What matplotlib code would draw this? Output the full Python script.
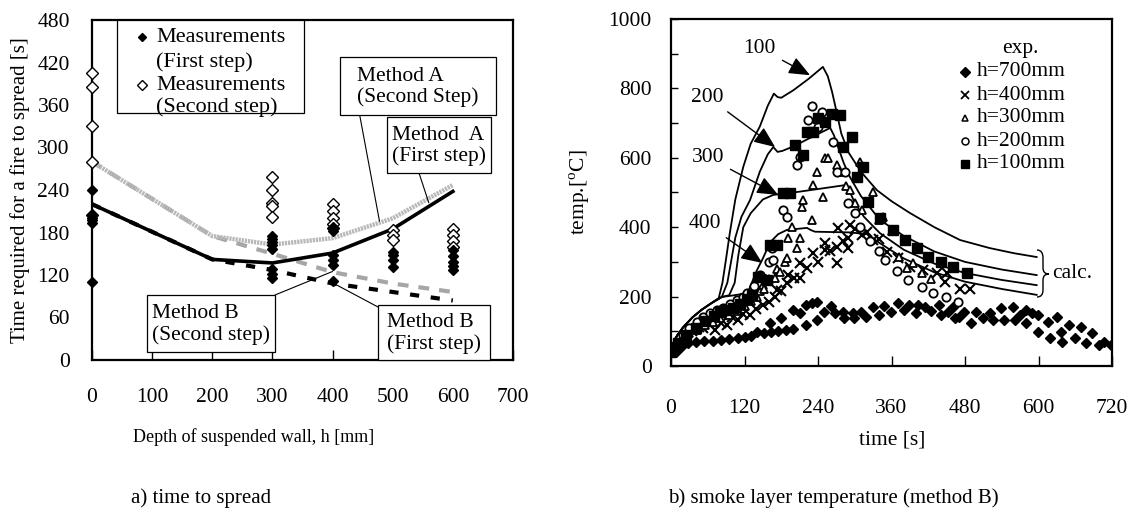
import matplotlib
matplotlib.use("Agg")
import matplotlib.pyplot as plt
import matplotlib.transforms as mtransforms
from matplotlib.patches import Rectangle, PathPatch
from matplotlib.path import Path
from matplotlib.lines import Line2D

plt.rcParams['font.family'] = ['Liberation Serif', 'DejaVu Serif']
plt.rcParams['mathtext.fontset'] = 'custom'
plt.rcParams['mathtext.rm'] = 'Liberation Serif'

# ---------------- data: (a) time to spread ----------------
depth = [0, 200, 300, 400, 500, 600]
methodA_second = [280, 175, 163, 172, 200, 247]
methodA_first = [220, 142, 137, 151, 185, 238]
methodB_second = [280, 175, 150, 124, 108, 96]
methodB_first = [220, 142, 127, 108, 96, 84]

meas1_h = [0, 0, 0, 0, 0, 0,
           300, 300, 300, 300, 300, 300, 300, 300,
           400, 400, 400, 400, 400, 400,
           500, 500, 500, 500,
           600, 600, 600, 600, 600]
meas1_t = [240, 205, 200, 197, 193, 110,
           175, 171, 167, 163, 157, 128, 122, 116,
           186, 182, 148, 141, 134, 112,
           152, 148, 141, 132,
           155, 147, 139, 133, 127]
meas2_h = [0, 0, 0, 0, 0,
           300, 300, 300, 300, 300,
           400, 400, 400, 400, 400,
           500, 500, 500,
           600, 600, 600, 600]
meas2_t = [405, 385, 330, 280, 205,
           258, 240, 222, 217, 202,
           220, 210, 200, 192, 186,
           184, 177, 169,
           185, 177, 168, 160]

# ---------------- data: (b) smoke layer temperature ----------------
calc100_t = [0, 5, 10, 20, 35, 50, 65, 78, 84, 90, 96, 105, 118, 130, 145, 158, 168, 174, 180, 200, 225, 248, 256, 263, 270, 278, 290, 310, 336, 360, 390, 430, 472, 520, 560, 597]
calc100_T = [38, 70, 88, 112, 140, 162, 180, 196, 240, 310, 383, 480, 574, 640, 690, 750, 785, 775, 773, 795, 828, 862, 835, 790, 735, 670, 615, 560, 507, 475, 441, 400, 363, 340, 325, 314]
calc200_t = [0, 5, 10, 20, 35, 50, 65, 83, 92, 98, 105, 115, 129, 145, 158, 167, 174, 182, 200, 230, 260, 266, 274, 282, 292, 310, 341, 380, 430, 480, 540, 597]
calc200_T = [38, 70, 88, 112, 140, 162, 180, 199, 240, 300, 370, 430, 478, 560, 610, 631, 617, 620, 633, 660, 686, 665, 625, 585, 545, 490, 421, 375, 330, 300, 278, 262]
calc300_t = [0, 5, 10, 20, 35, 50, 65, 83, 95, 104, 110, 118, 130, 150, 167, 200, 240, 287, 300, 315, 341, 380, 430, 480, 540, 597]
calc300_T = [38, 70, 88, 112, 140, 162, 180, 199, 204, 240, 320, 400, 440, 480, 493, 500, 510, 522, 470, 430, 383, 335, 295, 268, 248, 233]
calc400_t = [0, 5, 10, 20, 35, 50, 65, 83, 100, 125, 132, 140, 150, 162, 175, 189, 222, 228, 235, 292, 320, 341, 380, 430, 480, 540, 597]
calc400_T = [38, 70, 88, 112, 140, 162, 180, 199, 203, 210, 240, 275, 310, 357, 380, 392, 398, 392, 387, 385, 380, 354, 310, 270, 243, 222, 205]

h700_t = [0, 8, 16, 27, 41, 54, 68, 82, 95, 109, 120, 131, 141, 152, 161, 163, 174, 180, 188, 199, 199, 210, 220, 220, 231, 239, 239, 250, 261, 267, 280, 283, 297, 299, 310, 318, 329, 340, 348, 359, 370, 381, 389, 400, 403, 414, 424, 438, 441, 452, 460, 463, 471, 479, 490, 498, 509, 520, 525, 539, 544, 558, 561, 569, 580, 580, 590, 599, 599, 615, 618, 631, 637, 639, 650, 659, 669, 678, 688, 699, 707, 718]
h700_T = [40, 41, 55, 65, 70, 73, 73, 75, 77, 80, 84, 86, 99, 96, 123, 99, 102, 137, 104, 106, 161, 152, 118, 176, 181, 185, 133, 156, 173, 152, 156, 137, 152, 137, 156, 142, 169, 147, 173, 156, 181, 161, 176, 152, 176, 169, 159, 176, 147, 156, 171, 137, 142, 156, 123, 156, 137, 152, 132, 166, 132, 171, 132, 147, 161, 123, 152, 147, 99, 128, 80, 142, 99, 70, 118, 80, 113, 65, 94, 60, 70, 60]

h400_t = [0, 8, 15, 25, 35, 45, 52, 62, 72, 82, 91, 100, 109, 118, 129, 138, 150, 160, 170, 173, 180, 189, 191, 200, 211, 211, 222, 232, 240, 251, 251, 260, 271, 271, 280, 289, 289, 273, 292, 300, 312, 320, 330, 340, 352, 371, 390, 411, 434, 447, 450, 472, 488]
h400_T = [40, 55, 70, 85, 100, 112, 110, 122, 104, 125, 118, 140, 133, 150, 147, 165, 176, 185, 199, 219, 215, 239, 262, 255, 297, 254, 282, 325, 300, 334, 354, 330, 343, 297, 360, 340, 369, 398, 406, 395, 377, 385, 363, 365, 328, 311, 285, 277, 268, 242, 268, 222, 222]

h300_t = [0, 10, 20, 30, 42, 55, 68, 80, 95, 108, 120, 130, 140, 145, 150, 152, 160, 170, 173, 178, 186, 189, 191, 197, 205, 211, 214, 216, 230, 232, 238, 248, 251, 256, 271, 276, 286, 292, 300, 309, 312, 330, 340, 346, 360, 373, 385, 395, 410, 425]
h300_T = [40, 60, 80, 95, 104, 118, 128, 138, 148, 158, 172, 188, 200, 215, 233, 222, 250, 254, 280, 270, 300, 311, 369, 401, 340, 369, 458, 478, 421, 522, 559, 487, 599, 599, 579, 559, 520, 507, 470, 588, 450, 501, 420, 430, 390, 314, 282, 297, 268, 250]

h200_t = [0, 10, 20, 30, 42, 53, 64, 75, 85, 96, 108, 117, 124, 135, 145, 150, 160, 165, 167, 183, 189, 205, 211, 224, 230, 240, 246, 265, 271, 284, 289, 300, 309, 325, 340, 349, 369, 387, 410, 428, 449, 469]
h200_T = [40, 65, 90, 110, 127, 140, 152, 160, 167, 178, 190, 200, 210, 230, 262, 255, 300, 340, 305, 450, 430, 579, 602, 709, 749, 690, 732, 646, 559, 559, 470, 440, 401, 360, 330, 305, 275, 248, 228, 210, 199, 184]

h100_t = [0, 12, 25, 40, 55, 70, 80, 90, 101, 112, 124, 133, 142, 157, 162, 173, 183, 194, 202, 215, 222, 232, 240, 251, 263, 276, 281, 296, 303, 313, 322, 341, 362, 382, 401, 420, 441, 461, 483]
h100_T = [40, 65, 90, 110, 130, 145, 156, 162, 167, 180, 193, 205, 257, 248, 349, 349, 499, 499, 637, 608, 675, 675, 715, 703, 726, 723, 631, 660, 545, 573, 473, 426, 392, 363, 340, 314, 300, 285, 268]

exp_labels = ['h=700mm', 'h=400mm', 'h=300mm', 'h=200mm', 'h=100mm']
curve_labels = ['100', '200', '300', '400']

# ---------------- figure ----------------
W, H = 1135, 525
fig = plt.figure(figsize=(W / 100, H / 100), dpi=100)
PX = mtransforms.Affine2D().scale(1 / W, -1 / H).translate(0, 1) + fig.transFigure


def ax_rect(x0, y0, x1, y1):
    return [x0 / W, 1 - y1 / H, (x1 - x0) / W, (y1 - y0) / H]


FS = 15.5

# ---------- (a) ----------
ax1 = fig.add_axes(ax_rect(92, 20, 513, 360))
ax1.set_xlim(0, 700)
ax1.set_ylim(0, 480)
ax1.set_xticks(range(0, 701, 100))
ax1.set_yticks(range(0, 481, 60))
ax1.tick_params(axis='x', direction='in', length=7, width=1, pad=20, labelsize=FS)
ax1.tick_params(axis='y', direction='in', length=0, width=1, pad=16, labelsize=FS)
for s in ax1.spines.values():
    s.set_linewidth(1.6)

ax1.plot(depth, methodB_first, color='black', lw=3, linestyle=(0, (2.2, 2.8)), zorder=2)
ax1.plot(depth, methodB_second, color='#a6a6a6', lw=3, linestyle=(0, (2.6, 2.4)), zorder=2)
ax1.plot(depth, methodA_second, color='#b8b8b8', lw=3.2, linestyle=(0, (0.5, 0.2)), zorder=3)
ax1.plot(depth, methodA_first, color='black', lw=2.6, zorder=3)
ax1.plot(meas2_h, meas2_t, linestyle='none', marker='D', ms=6, mfc='white', mec='black', mew=1.0,
         zorder=4, clip_on=False)
ax1.plot(meas1_h, meas1_t, linestyle='none', marker='D', ms=5, mfc='black', mec='black', zorder=5,
         clip_on=False)

# legend box (a)
fig.add_artist(Rectangle((117, 20), 187, 93, transform=PX, fill=True, fc='white', ec='black', lw=0.9, zorder=6))
fig.add_artist(Line2D([142], [37], marker='D', ms=4.5, mfc='black', mec='black', transform=PX, zorder=7))
fig.add_artist(Line2D([142], [85], marker='D', ms=5, mfc='white', mec='black', mew=1, transform=PX, zorder=7))
for txt, y in [('Measurements', 37), ('(First step)', 62), ('Measurements', 85), ('(Second step)', 107)]:
    fig.text(156, y, txt, transform=PX, ha='left', va='center', fontsize=16, zorder=7)

# method boxes
boxes = [
    ('Method A\n(Second Step)', (340, 57, 496, 115), (478, 196), (358, 106)),
    ('Method  A\n(First step)', (387, 117, 491, 173), (560, 222), (419, 173)),
    ('Method B\n(Second step)', (147, 295, 275, 352), (400, 125), (275, 295)),
    ('Method B\n(First step)', (378, 305, 490, 360), (400, 109), (378, 307)),
]
for txt, (x0, y0, x1, y1), target, start in boxes:
    fig.add_artist(Rectangle((x0, y0), x1 - x0, y1 - y0, transform=PX, fc='white', ec='black', lw=0.9, zorder=6))
    fig.text((x0 + x1) / 2, (y0 + y1) / 2 + 1, txt, transform=PX, ha='center', va='center',
             multialignment='left', fontsize=FS, linespacing=1.15, zorder=7)
    ax1.annotate('', xy=target, xycoords='data', xytext=start, textcoords=PX,
                 arrowprops=dict(arrowstyle='-', lw=0.8, color='black', shrinkA=0, shrinkB=0), zorder=7)

fig.text(20, 190, 'Time required for a fire to spread [s]', transform=PX, rotation=90,
         ha='center', va='center', fontsize=15)
fig.text(254, 437, 'Depth of suspended wall, h [mm]', transform=PX, ha='center', va='center', fontsize=13)
fig.text(201, 498, 'a) time to spread', transform=PX, ha='center', va='center', fontsize=15)

# ---------- (b) ----------
ax2 = fig.add_axes(ax_rect(671, 19, 1112, 366))
ax2.set_xlim(0, 720)
ax2.set_ylim(0, 1000)
ax2.set_xticks(range(0, 721, 120))
ax2.set_yticks(range(0, 1001, 200))
ax2.set_yticks(range(0, 1001, 100), minor=True)
ax2.tick_params(axis='x', direction='in', length=7, width=1, pad=24, labelsize=FS)
ax2.tick_params(axis='y', which='both', direction='in', length=5, width=1, pad=14, labelsize=FS)
for s in ax2.spines.values():
    s.set_linewidth(1.6)

for tt, TT in [(calc100_t, calc100_T), (calc200_t, calc200_T), (calc300_t, calc300_T), (calc400_t, calc400_T)]:
    ax2.plot(tt, TT, color='black', lw=1.3, zorder=2)

ax2.plot(h700_t, h700_T, linestyle='none', marker='D', ms=5.5, mfc='black', mec='black', zorder=3)
ax2.plot(h400_t, h400_T, linestyle='none', marker='x', ms=7, mec='black', mew=1.5, zorder=3)
ax2.plot(h300_t, h300_T, linestyle='none', marker='^', ms=6, mfc='white', mec='black', mew=1.3, zorder=3)
ax2.plot(h200_t, h200_T, linestyle='none', marker='o', ms=6, mfc='white', mec='black', mew=1.3, zorder=3)
ax2.plot(h100_t, h100_T, linestyle='none', marker='s', ms=6.5, mfc='black', mec='black', zorder=3)

# curve labels with arrows
label_pos = [(145, 916), (60, 775), (60, 602), (56, 412)]
arrow_tip = [(227, 838), (170, 631), (175, 493), (149, 297)]
for lab, p, tip in zip(curve_labels, label_pos, arrow_tip):
    ax2.annotate(lab, xy=tip, xytext=p, textcoords='data', ha='center', va='center', fontsize=FS,
                 arrowprops=dict(arrowstyle='-|>,head_length=1.0,head_width=0.42', lw=1.0, color='black',
                                 shrinkA=3, shrinkB=0, mutation_scale=13), zorder=6)

# legend (b)
fig.text(1020, 48, 'exp.', transform=PX, ha='center', va='center', fontsize=FS)
leg_styles = [dict(marker='D', ms=5, mfc='black', mec='black'),
              dict(marker='x', ms=5.5, mec='black', mew=1.3),
              dict(marker='^', ms=5, mfc='white', mec='black', mew=1.1),
              dict(marker='o', ms=5, mfc='white', mec='black', mew=1.1),
              dict(marker='s', ms=5.5, mfc='black', mec='black')]
for i, (lab, st) in enumerate(zip(exp_labels, leg_styles)):
    y = 72 + 23 * i
    fig.add_artist(Line2D([965], [y], transform=PX, linestyle='none', **st))
    fig.text(977, y, lab, transform=PX, ha='left', va='center', fontsize=FS)

# calc brace
verts = [(1037, 250), (1043, 250), (1043, 258), (1043, 268), (1043, 274), (1049, 274),
         (1043, 274), (1043, 280), (1043, 290), (1043, 297), (1037, 297)]
codes = [Path.MOVETO, Path.CURVE3, Path.CURVE3, Path.LINETO, Path.CURVE3, Path.CURVE3,
         Path.CURVE3, Path.CURVE3, Path.LINETO, Path.CURVE3, Path.CURVE3]
fig.add_artist(PathPatch(Path(verts, codes), transform=PX, fill=False, ec='black', lw=1.0))
fig.text(1052, 274, 'calc.', transform=PX, ha='left', va='center', fontsize=FS)

fig.text(580, 192, 'temp.[$^{\\mathrm{o}}$C]', transform=PX, rotation=90, ha='center', va='center', fontsize=FS)
fig.text(892, 440, 'time [s]', transform=PX, ha='center', va='center', fontsize=FS)
fig.text(833, 498, 'b) smoke layer temperature (method B)', transform=PX, ha='center', va='center', fontsize=15)

fig.savefig('out.png', dpi=100)
